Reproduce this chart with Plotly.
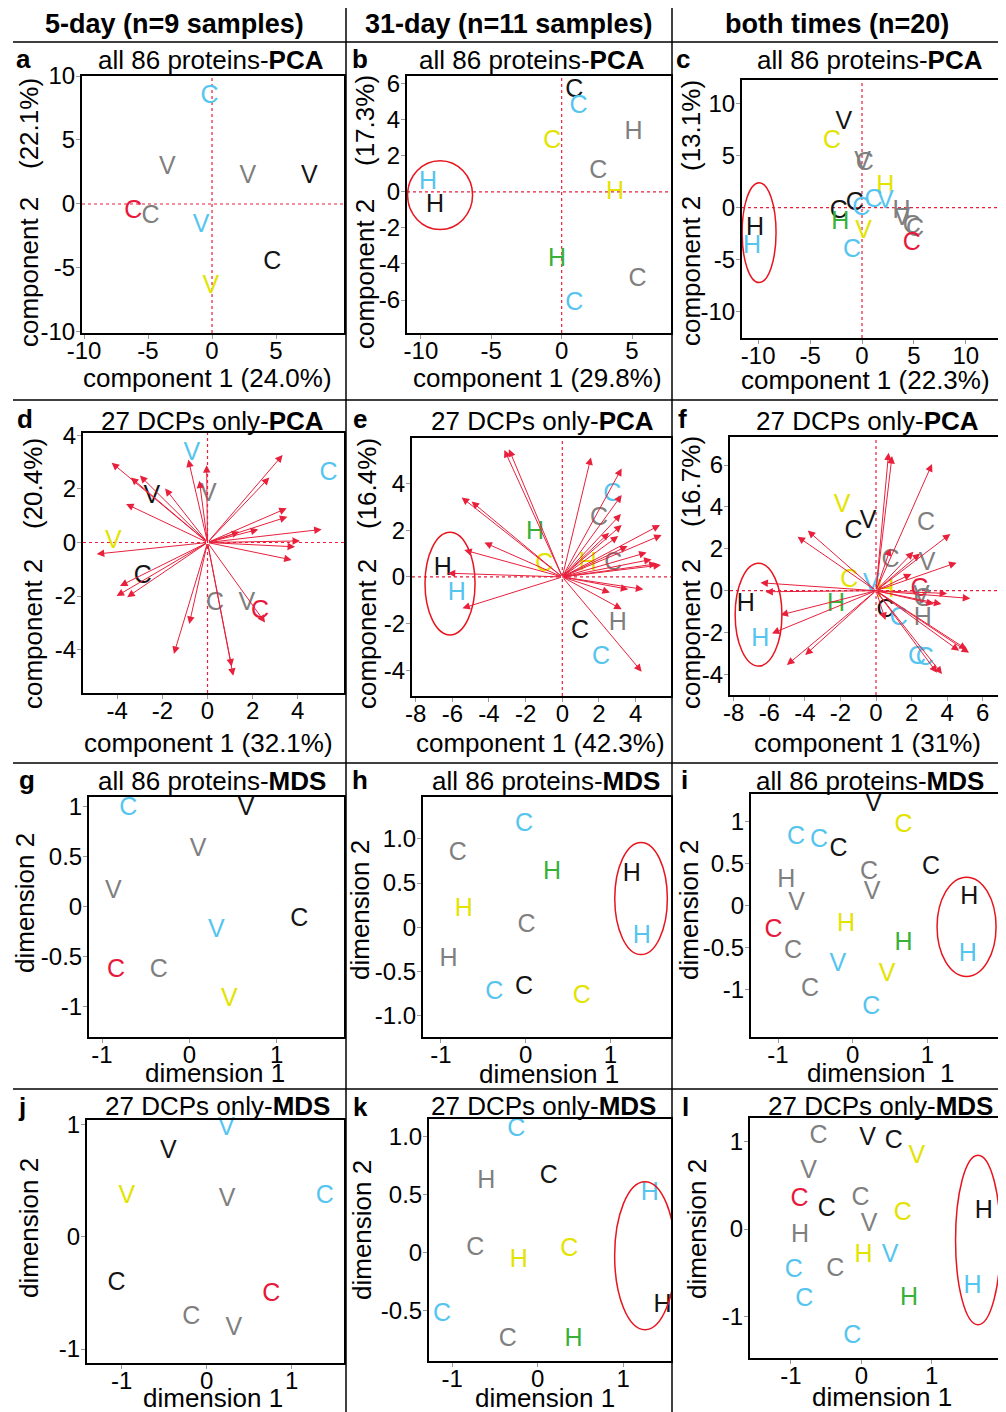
import plotly.graph_objects as go

W, H = 1006, 1412
OFF = 8  # page body margin of the html page, compensated in placement
FONT = "Liberation Sans, Arial, Helvetica, sans-serif"
COL = {'K': '#141414', 'G': '#7f7f7f', 'B': '#55c5f0', 'R': '#e8183c', 'Y': '#e3e300', 'N': '#38b03a'}
RED = '#e8203c'

# ---------------- data ----------------
# group codes: K black, G gray, B light blue, R red, Y yellow, N green
A_lab = ['C', 'V', 'V', 'V', 'C', 'C', 'V', 'C', 'V']
A_grp = ['B', 'G', 'G', 'K', 'R', 'G', 'B', 'K', 'Y']
A_x = [-0.2, -3.5, 2.8, 7.6, -6.15, -4.8, -0.86, 4.7, -0.1]
A_y = [8.4, 2.8, 2.1, 2.1, -0.6, -1.0, -1.7, -4.6, -6.5]

B_lab = ['C', 'C', 'H', 'C', 'C', 'H', 'H', 'H', 'H', 'C', 'C']
B_grp = ['K', 'B', 'G', 'Y', 'G', 'Y', 'B', 'K', 'N', 'G', 'B']
B_x = [0.9, 1.2, 5.1, -0.67, 2.6, 3.8, -9.5, -9.0, -0.33, 5.4, 0.9]
B_y = [5.6, 4.7, 3.3, 2.8, 1.1, -0.05, 0.5, -0.8, -3.75, -4.9, -6.2]
B_ell = [-10.95, -6.33, -2.09, 1.72]

C_lab = ['V', 'C', 'V', 'C', 'H', 'C', 'C', 'C', 'C', 'V', 'H', 'V', 'C', 'H', 'V', 'C', 'C', 'C', 'H', 'H']
C_grp = ['K', 'Y', 'G', 'G', 'Y', 'K', 'K', 'B', 'B', 'B', 'N', 'Y', 'B', 'G', 'G', 'G', 'G', 'R', 'K', 'B']
C_x = [-1.76, -2.9, 0.06, 0.26, 2.25, -2.25, -0.7, -0.07, 1.1, 2.25, -2.1, 0.16, -0.96, 3.8, 3.85, 4.8, 5.1, 4.8, -10.3, -10.6]
C_y = [8.1, 6.3, 4.3, 4.25, 2.0, -0.4, 0.4, -0.1, 0.7, 0.55, -1.5, -2.3, -4.1, -0.4, -1.05, -1.85, -2.15, -3.5, -2.0, -3.75]
C_ell = [-11.55, -8.28, -7.2, 2.38]

D_lab = ['V', 'C', 'V', 'V', 'V', 'C', 'C', 'V', 'C']
D_grp = ['B', 'B', 'K', 'G', 'Y', 'K', 'G', 'G', 'R']
D_x = [-0.7, 5.36, -2.47, 0.04, -4.18, -2.87, 0.33, 1.74, 2.33]
D_y = [3.33, 2.58, 1.7, 1.77, 0.03, -1.28, -2.3, -2.3, -2.58]
D_vx = [-4.25, -3.4, -3.0, -1.88, -3.61, -0.85, -0.36, -0.04, 3.33, 2.74, 3.51, 3.54, 1.41, 2.25,
        5.06, 4.1, 3.88, 3.73, -4.91, -3.88, -4.03, -3.56, -0.81, -1.49, 1.14, 1.07, 2.55]
D_vy = [2.98, 2.43, 2.5, 2.02, 1.44, 3.1, 2.31, 2.89, 3.27, 2.43, 1.28, 0.96, 0.4, 0.49,
        0.49, 0.06, -0.16, -0.65, -0.43, -1.62, -2.0, -2.04, -3.04, -4.16, -4.98, -4.63, -2.99]

E_lab = ['H', 'C', 'C', 'C', 'H', 'C', 'H', 'H', 'C', 'H', 'C']
E_grp = ['N', 'G', 'B', 'Y', 'Y', 'G', 'K', 'B', 'K', 'G', 'B']
E_x = [-1.49, 2.0, 2.73, -0.98, 1.39, 2.78, -6.52, -5.76, 0.97, 3.02, 2.11]
E_y = [1.87, 2.5, 3.5, 0.51, 0.58, 0.58, 0.37, -0.7, -2.34, -1.98, -3.47]
E_vx = [-3.16, -2.91, 1.56, 3.24, 3.24, 3.2, 3.24, 2.55, 3.05, 5.33, 5.42, 3.56, 4.6, 4.87,
        5.38, 5.15, -5.49, -4.95, -4.25, -5.35, -6.25, -5.45, 2.6, 3.6, 4.42, 3.24, 4.33]
E_vy = [5.43, 5.46, 5.11, 4.64, 3.5, 2.69, 2.22, 1.89, 1.75, 2.22, 1.79, 1.32, 1.04, 0.75,
        0.51, 0.56, 3.4, 3.22, 1.47, 1.15, 0.16, -1.34, -0.67, -0.53, -0.53, -1.38, -4.05]
E_ell = [-7.49, -4.76, -2.48, 1.91]

F_lab = ['V', 'V', 'C', 'C', 'C', 'V', 'C', 'V', 'H', 'C', 'C', 'C', 'C', 'H', 'H', 'H', 'H', 'C', 'C', 'V']
F_grp = ['Y', 'K', 'K', 'G', 'G', 'G', 'Y', 'B', 'Y', 'R', 'G', 'K', 'B', 'G', 'N', 'K', 'B', 'B', 'B', 'G']
F_x = [-1.91, -0.45, -1.26, 2.81, 0.81, 2.87, -1.5, -0.26, 0.53, 2.44, 2.63, 0.53, 1.28, 2.63, -2.25, -7.32, -6.51, 2.31, 2.74, 2.55]
F_y = [4.04, 3.3, 2.82, 3.18, 1.43, 1.27, 0.48, 0.27, 0.0, 0.03, -0.45, -0.96, -1.32, -1.32, -0.68, -0.68, -2.36, -3.18, -3.23, -0.3]
F_vx = [0.71, 0.9, 3.15, 4.18, 2.1, 2.48, 4.53, 1.99, 0.81, 4.0, 5.3, 3.68, 3.26, 4.67,
        5.23, 5.1, 3.43, 3.71, 0.53, -3.84, -4.41, -6.5, -6.22, -5.37, -5.85, -3.98, -5.01]
F_vy = [6.59, 6.43, 6.05, 2.71, 1.86, 1.78, 1.34, 0.8, 2.02, -0.13, -0.37, -0.64, -0.64, -2.87,
        -2.96, -2.8, -3.92, -3.98, -1.4, 2.87, 2.58, 0.38, -0.05, -1.16, -2.04, -3.07, -3.55]
F_ell = [-7.92, -5.29, -3.6, 1.31]

G_lab = ['C', 'V', 'V', 'V', 'C', 'V', 'C', 'C', 'V']
G_grp = ['B', 'K', 'G', 'G', 'K', 'B', 'R', 'G', 'Y']
G_x = [-0.7, 0.65, 0.1, -0.87, 1.26, 0.31, -0.84, -0.35, 0.46]
G_y = [0.98, 0.98, 0.57, 0.15, -0.13, -0.24, -0.64, -0.64, -0.93]

H_lab = ['C', 'C', 'H', 'H', 'H', 'C', 'H', 'H', 'C', 'C', 'C']
H_grp = ['B', 'G', 'N', 'K', 'Y', 'G', 'B', 'G', 'K', 'B', 'Y']
H_x = [-0.02, -0.8, 0.31, 1.25, -0.73, 0.01, 1.37, -0.91, -0.02, -0.37, 0.66]
H_y = [1.16, 0.83, 0.62, 0.59, 0.2, 0.02, -0.11, -0.37, -0.68, -0.74, -0.79]
H_ell = [1.05, 1.67, -0.31, 0.96]

I_lab = ['V', 'C', 'C', 'C', 'C', 'C', 'V', 'C', 'H', 'V', 'H', 'H', 'C', 'C', 'H', 'V', 'V', 'H', 'C', 'C']
I_grp = ['K', 'Y', 'B', 'B', 'K', 'G', 'G', 'K', 'G', 'G', 'K', 'Y', 'R', 'G', 'N', 'B', 'Y', 'B', 'G', 'B']
I_x = [0.28, 0.68, -0.76, -0.45, -0.19, 0.22, 0.26, 1.05, -0.89, -0.75, 1.56, -0.09, -1.06, -0.8, 0.68, -0.2, 0.46, 1.54, -0.57, 0.25]
I_y = [1.2, 0.95, 0.81, 0.77, 0.67, 0.39, 0.15, 0.45, 0.3, 0.03, 0.09, -0.23, -0.3, -0.55, -0.45, -0.7, -0.82, -0.58, -1.0, -1.21]
I_ell = [1.13, 1.92, -0.84, 0.34]

J_lab = ['V', 'V', 'V', 'V', 'C', 'C', 'C', 'C', 'V']
J_grp = ['B', 'K', 'Y', 'G', 'B', 'K', 'R', 'G', 'G']
J_x = [0.23, -0.45, -0.94, 0.24, 1.39, -1.06, 0.76, -0.18, 0.32]
J_y = [0.96, 0.76, 0.36, 0.33, 0.36, -0.42, -0.52, -0.72, -0.82]

K_lab = ['C', 'H', 'C', 'H', 'C', 'H', 'C', 'H', 'C', 'C', 'H']
K_grp = ['B', 'G', 'K', 'B', 'G', 'Y', 'Y', 'K', 'B', 'G', 'N']
K_x = [-0.25, -0.6, 0.13, 1.31, -0.73, -0.22, 0.37, 1.46, -1.12, -0.35, 0.42]
K_y = [1.06, 0.61, 0.65, 0.51, 0.03, -0.07, 0.02, -0.46, -0.54, -0.76, -0.76]
K_ell = [0.9, 1.61, -0.67, 0.61]

L_lab = ['C', 'V', 'C', 'V', 'V', 'C', 'C', 'C', 'C', 'V', 'H', 'H', 'V', 'H', 'C', 'C', 'C', 'H', 'H', 'C']
L_grp = ['G', 'K', 'K', 'Y', 'G', 'R', 'K', 'G', 'Y', 'G', 'G', 'Y', 'B', 'K', 'B', 'G', 'B', 'N', 'B', 'B']
L_x = [-0.61, 0.09, 0.46, 0.79, -0.75, -0.88, -0.49, -0.01, 0.59, 0.11, -0.87, 0.03, 0.41, 1.74, -0.96, -0.37, -0.81, 0.68, 1.58, -0.13]
L_y = [1.05, 1.03, 0.99, 0.82, 0.65, 0.33, 0.22, 0.35, 0.17, 0.05, -0.08, -0.3, -0.3, 0.2, -0.48, -0.46, -0.81, -0.79, -0.66, -1.23]
L_ell = [1.34, 1.98, -1.09, 0.84]

# tick labels
T_a_x = [-10, -5, 0, 5];            T_a_y = [-10, -5, 0, 5, 10]
T_b_x = [-10, -5, 0, 5];            T_b_y = [-6, -4, -2, 0, 2, 4, 6]
T_c_x = [-10, -5, 0, 5, 10];        T_c_y = [-10, -5, 0, 5, 10]
T_d_x = [-4, -2, 0, 2, 4];          T_d_y = [-4, -2, 0, 2, 4]
T_e_x = [-8, -6, -4, -2, 0, 2, 4];  T_e_y = [-4, -2, 0, 2, 4]
T_f_x = [-8, -6, -4, -2, 0, 2, 4, 6]; T_f_y = [-4, -2, 0, 2, 4, 6]
T_g_x = [-1, 0, 1];  T_g_y = [-1, -0.5, 0, 0.5, 1];  T_g_yt = ['-1', '-0.5', '0', '0.5', '1']
T_h_x = [-1, 0, 1];  T_h_y = [-1, -0.5, 0, 0.5, 1];  T_h_yt = ['-1.0', '-0.5', '0', '0.5', '1.0']
T_i_x = [-1, 0, 1];  T_i_y = [-1, -0.5, 0, 0.5, 1];  T_i_yt = ['-1', '-0.5', '0', '0.5', '1']
T_j_x = [-1, 0, 1];  T_j_y = [-1, 0, 1]
T_k_x = [-1, 0, 1];  T_k_y = [-0.5, 0, 0.5, 1];      T_k_yt = ['-0.5', '0', '0.5', '1.0']
T_l_x = [-1, 0, 1];  T_l_y = [-1, 0, 1]

HEADERS = ['5-day (n=9 samples)', '31-day (n=11 samples)', 'both times (n=20)']
TITLES = ['all 86 proteins-<b>PCA</b>'] * 3 + ['27 DCPs only-<b>PCA</b>'] * 3 + \
         ['all 86 proteins-<b>MDS</b>'] * 3 + ['27 DCPs only-<b>MDS</b>'] * 3
XTITLES = ['component 1 (24.0%)', 'component 1 (29.8%)', 'component 1 (22.3%)',
           'component 1 (32.1%)', 'component 1 (42.3%)', 'component 1 (31%)',
           'dimension 1', 'dimension 1', 'dimension\u00a0 1',
           'dimension 1', 'dimension 1', 'dimension 1']
YTITLES = ['component 2'] * 6 + ['dimension 2'] * 6
YPCT = ['(22.1%)', '(17.3%)', '(13.1%)', '(20.4%)', '(16.4%)', '(16.7%)']


def fmt(v):
    return [('%g' % t) for t in v]


# ---------------- layout geometry (pixels in the reference picture) ----------------
panels = [
    dict(k='a', lab=A_lab, grp=A_grp, x=A_x, y=A_y, box=(82, 344, 76, 333), xr=[-10.16, 10.31], yr=[-10.08, 10.0],
         xt=T_a_x, yt=T_a_y, pca=True, tpos=(211, 60), lpos=(23, 59), xtp=(207, 378), ytp=(29, 272), ppos=124),
    dict(k='b', lab=B_lab, grp=B_grp, x=B_x, y=B_y, box=(407, 671, 76, 333), xr=[-10.99, 7.77], yr=[-7.83, 6.42],
         xt=T_b_x, yt=T_b_y, pca=True, ell=B_ell, tpos=(532, 60), lpos=(360, 59), xtp=(537, 378), ytp=(365, 274), ppos=121),
    dict(k='c', lab=C_lab, grp=C_grp, x=C_x, y=C_y, box=(742, 1003, 80, 338), xr=[-11.56, 13.58], yr=[-12.52, 12.24],
         xt=T_c_x, yt=T_c_y, pca=True, ell=C_ell, tpos=(870, 60), lpos=(683, 59), xtp=(865, 380), ytp=(691, 271), ppos=126),
    dict(k='d', lab=D_lab, grp=D_grp, x=D_x, y=D_y, box=(83, 344, 433, 693), xr=[-5.52, 6.05], yr=[-5.62, 4.09],
         xt=T_d_x, yt=T_d_y, pca=True, vx=D_vx, vy=D_vy, tpos=(212, 421), lpos=(25, 419), xtp=(208, 743), ytp=(33, 634), ppos=484),
    dict(k='e', lab=E_lab, grp=E_grp, x=E_x, y=E_y, box=(412, 671, 438, 696), xr=[-8.2, 5.93], yr=[-5.09, 5.94],
         xt=T_e_x, yt=T_e_y, pca=True, vx=E_vx, vy=E_vy, ell=E_ell, tpos=(542, 421), lpos=(360, 419), xtp=(540, 743), ytp=(367, 634), ppos=484),
    dict(k='f', lab=F_lab, grp=F_grp, x=F_x, y=F_y, box=(730, 1003, 437, 695), xr=[-8.21, 7.14], yr=[-4.98, 7.34],
         xt=T_f_x, yt=T_f_y, pca=True, vx=F_vx, vy=F_vy, ell=F_ell, tpos=(867, 421), lpos=(682, 419), xtp=(867, 743), ytp=(691, 634), ppos=482),
    dict(k='g', lab=G_lab, grp=G_grp, x=G_x, y=G_y, box=(89, 344, 797, 1037), xr=[-1.149, 1.772], yr=[-1.303, 1.097],
         xt=T_g_x, yt=T_g_y, ytt=T_g_yt, tpos=(212, 781), lpos=(27, 780), xtp=(215, 1073), ytp=(25, 903)),
    dict(k='h', lab=H_lab, grp=H_grp, x=H_x, y=H_y, box=(423, 671, 797, 1037), xr=[-1.21, 1.713], yr=[-1.243, 1.475],
         xt=T_h_x, yt=T_h_y, ytt=T_h_yt, ell=H_ell, tpos=(546, 781), lpos=(360, 780), xtp=(549, 1074), ytp=(360, 910)),
    dict(k='i', lab=I_lab, grp=I_grp, x=I_x, y=I_y, box=(751, 1003, 794, 1037), xr=[-1.362, 2.013], yr=[-1.559, 1.328],
         xt=T_i_x, yt=T_i_y, ytt=T_i_yt, ell=I_ell, tpos=(870, 781), lpos=(684, 780), xtp=(880, 1073), ytp=(689, 910)),
    dict(k='j', lab=J_lab, grp=J_grp, x=J_x, y=J_y, box=(87, 344, 1120, 1363), xr=[-1.408, 1.615], yr=[-1.124, 1.039],
         xt=T_j_x, yt=T_j_y, tpos=(217, 1106), lpos=(22, 1107), xtp=(213, 1398), ytp=(29, 1228)),
    dict(k='k', lab=K_lab, grp=K_grp, x=K_x, y=K_y, box=(429, 671, 1119, 1361), xr=[-1.271, 1.559], yr=[-0.94, 1.152],
         xt=T_k_x, yt=T_k_y, ytt=T_k_yt, ell=K_ell, tpos=(543, 1106), lpos=(360, 1107), xtp=(545, 1398), ytp=(362, 1230)),
    dict(k='l', lab=L_lab, grp=L_grp, x=L_x, y=L_y, box=(750, 1003, 1118, 1358), xr=[-1.583, 2.015], yr=[-1.469, 1.264],
         xt=T_l_x, yt=T_l_y, ell=L_ell, tpos=(880, 1106), lpos=(685, 1107), xtp=(882, 1397), ytp=(697, 1229)),
]


def px(x):
    return (x - OFF) / W


def py(y):
    return 1 - (y - OFF) / H


def note(x, y, text, size, angle=0):
    return dict(x=px(x), y=py(y), xref='paper', yref='paper', text=text, showarrow=False,
                xanchor='center', yanchor='middle', textangle=angle,
                font=dict(family=FONT, size=size, color='black'))


fig = go.Figure()
annotations = []
shapes = []
axes = {}

for i, p in enumerate(panels, start=1):
    sfx = '' if i == 1 else str(i)
    xa, ya = 'x' + sfx, 'y' + sfx
    L, R, T, B = p['box']
    fig.add_trace(go.Scatter(
        x=p['x'], y=p['y'], mode='text', text=p['lab'], textposition='middle center',
        textfont=dict(family=FONT, size=25, color=[COL[g] for g in p['grp']]),
        xaxis=xa, yaxis=ya, cliponaxis=False, showlegend=False, hoverinfo='skip'))
    common = dict(showline=True, mirror=True, linecolor='black', linewidth=2, ticks='outside',
                  ticklen=4, tickwidth=1, tickcolor='#999999', showgrid=False, zeroline=False,
                  automargin=False, tickfont=dict(family=FONT, size=24, color='black'), fixedrange=True)
    axes['xaxis' + sfx] = dict(common, domain=[px(L), min(px(R), 1)], range=p['xr'], anchor=ya,
                               tickmode='array', tickvals=p['xt'], ticktext=fmt(p['xt']),
                               ticklabelstandoff=-9)
    axes['yaxis' + sfx] = dict(common, domain=[py(B), py(T)], range=p['yr'], anchor=xa,
                               tickmode='array', tickvals=p['yt'], ticktext=p.get('ytt', fmt(p['yt'])),
                               ticklabelstandoff=-4)
    if p.get('pca'):
        shapes.append(dict(type='line', xref=xa, yref=ya + ' domain', x0=0, x1=0, y0=0, y1=1,
                           line=dict(color=RED, width=1.2, dash='dot'), layer='below'))
        shapes.append(dict(type='line', xref=xa + ' domain', yref=ya, x0=0, x1=1, y0=0, y1=0,
                           line=dict(color=RED, width=1.2, dash='dot'), layer='below'))
    if 'vx' in p:
        for vx, vy in zip(p['vx'], p['vy']):
            annotations.append(dict(x=vx, y=vy, ax=0, ay=0, xref=xa, yref=ya, axref=xa, ayref=ya,
                                    text='', showarrow=True, arrowhead=2, arrowsize=1.5,
                                    arrowwidth=1, arrowcolor=RED, standoff=0, startstandoff=0))
    if 'ell' in p:
        x0, x1, y0, y1 = p['ell']
        shapes.append(dict(type='circle', xref=xa, yref=ya, x0=x0, x1=x1, y0=y0, y1=y1,
                           line=dict(color='#e8141e', width=1.5), layer='above'))
    annotations.append(note(*p['tpos'], TITLES[i - 1], 26))
    annotations.append(note(*p['lpos'], '<b>%s</b>' % p['k'], 26))
    annotations.append(note(*p['xtp'], XTITLES[i - 1], 26))
    yx, yy = p['ytp']
    annotations.append(note(yx, yy, YTITLES[i - 1], 26, -90))
    if 'ppos' in p:
        annotations.append(note(yx, p['ppos'], YPCT[i - 1], 26, -90))

for hx, txt in zip([174, 508, 837], HEADERS):
    annotations.append(note(hx, 24, '<b>%s</b>' % txt, 27))

for yy in [42, 400, 763, 1089]:
    shapes.append(dict(type='line', xref='paper', yref='paper', x0=px(13), x1=1, y0=py(yy), y1=py(yy),
                       line=dict(color='black', width=1.5)))
for xx in [346, 672]:
    shapes.append(dict(type='line', xref='paper', yref='paper', x0=px(xx), x1=px(xx), y0=0, y1=1,
                       line=dict(color='black', width=1.5)))

fig.update_layout(width=W, height=H, autosize=False,
                  margin=dict(l=0, r=0, t=0, b=0, pad=0, autoexpand=False),
                  paper_bgcolor='white', plot_bgcolor='white', showlegend=False,
                  font=dict(family=FONT, color='black'),
                  annotations=annotations, shapes=shapes, **axes)

fig.write_html("out.html")
